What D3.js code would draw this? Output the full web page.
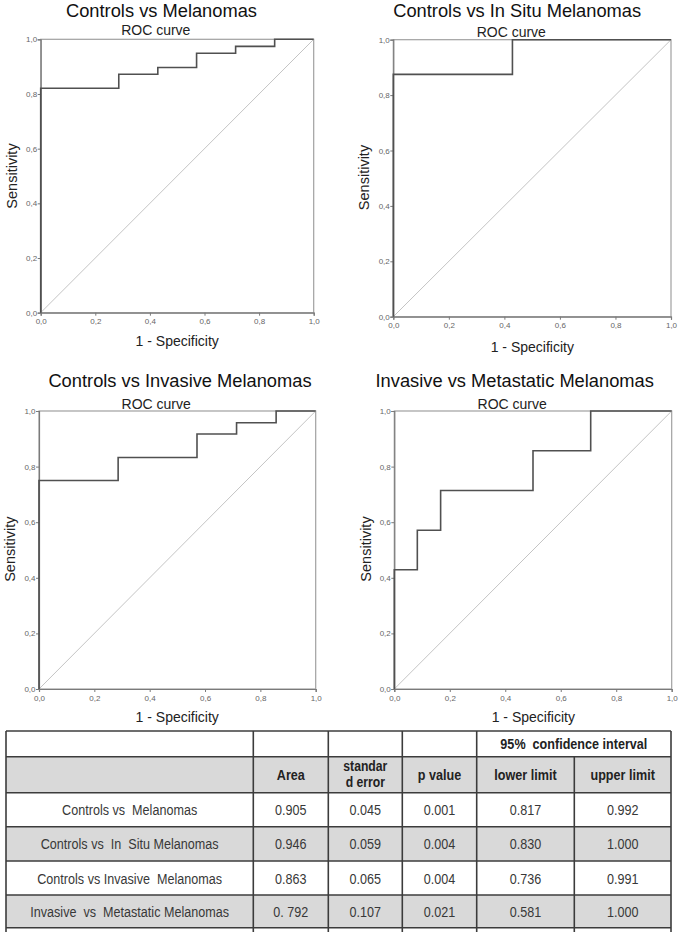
<!DOCTYPE html>
<html>
<head>
<meta charset="utf-8">
<script src="https://cdn.jsdelivr.net/npm/d3@7"></script>
<style>
  body { margin: 0; background: #fff; }
  svg { display: block; }
  text { font-family: "Liberation Sans", Arial, sans-serif; }
</style>
</head>
<body>
<div id="chart"></div>
<script>
// ---- data ----
const panelTitles = [
    'Controls vs Melanomas',
    'Controls vs In Situ Melanomas',
    'Controls vs Invasive Melanomas',
    'Invasive vs Metastatic Melanomas'
];

// ROC points (1 - specificity, sensitivity), drawn as step-after
const melFpr = [0, 0, 0.286, 0.429, 0.571, 0.714, 0.857, 1];
const melTpr = [0, 0.821, 0.872, 0.897, 0.949, 0.974, 1, 1];
const inSituFpr = [0, 0, 0.429, 1];
const inSituTpr = [0, 0.875, 1, 1];
const invasiveFpr = [0, 0, 0.286, 0.571, 0.714, 0.857, 1];
const invasiveTpr = [0, 0.75, 0.833, 0.917, 0.958, 1, 1];
const metaFpr = [0, 0, 0.083, 0.167, 0.5, 0.708, 1];
const metaTpr = [0, 0.429, 0.571, 0.714, 0.857, 1, 1];

const tickValues = [0, 0.2, 0.4, 0.6, 0.8, 1];
const tickLabels = ['0,0', '0,2', '0,4', '0,6', '0,8', '1,0'];

const tableRowLabels = [
    'Controls vs  Melanomas',
    'Controls vs  In  Situ Melanomas',
    'Controls vs Invasive  Melanomas',
    'Invasive  vs  Metastatic Melanomas'
];
const areaVals = ['0.905', '0.946', '0.863', '0. 792'];
const seVals = ['0.045', '0.059', '0.065', '0.107'];
const pVals = ['0.001', '0.004', '0.004', '0.021'];
const lowerVals = ['0.817', '0.830', '0.736', '0.581'];
const upperVals = ['0.992', '1.000', '0.991', '1.000'];
const headerLabels = ['', 'Area', ['standar', 'd error'], 'p value', 'lower limit', 'upper limit'];
const spanHeader = '95%  confidence interval';

// ---- layout ----
const svg = d3.select('#chart')
    .append('svg')
    .attr('width', 680)
    .attr('height', 932);

svg.append('rect').attr('width', 680).attr('height', 932).attr('fill', '#fff');

const panels = [
    { fpr: melFpr, tpr: melTpr, plot: { l: 40.7, r: 313.7, t: 39.3, b: 312.7 },
      title: [161.5, 17], roc: [155.8, 34.5], ylab: [16.5, 176], xlab: [177.2, 346] },
    { fpr: inSituFpr, tpr: inSituTpr, plot: { l: 393.3, r: 671, t: 39.7, b: 316.7 },
      title: [517.2, 17], roc: [511.3, 37.3], ylab: [369.3, 177.5], xlab: [532.3, 351.5] },
    { fpr: invasiveFpr, tpr: invasiveTpr, plot: { l: 39, r: 315.7, t: 411, b: 689 },
      title: [180, 386.7], roc: [156.2, 409.3], ylab: [15, 549.2], xlab: [177.2, 721.5] },
    { fpr: metaFpr, tpr: metaTpr, plot: { l: 394.3, r: 671.7, t: 411, b: 689 },
      title: [514.7, 386.7], roc: [512.2, 409.3], ylab: [370.7, 549], xlab: [533.3, 721.5] }
];

panels.forEach((p, i) => {
    const g = svg.append('g');
    const xScale = d3.scaleLinear().domain([0, 1]).range([p.plot.l, p.plot.r]);
    const yScale = d3.scaleLinear().domain([0, 1]).range([p.plot.b, p.plot.t]);

    // frame
    g.append('rect')
        .attr('x', p.plot.l).attr('y', p.plot.t)
        .attr('width', p.plot.r - p.plot.l).attr('height', p.plot.b - p.plot.t)
        .attr('fill', 'none').attr('stroke', '#a0a0a0').attr('stroke-width', 1.2);

    // reference diagonal
    g.append('line')
        .attr('x1', xScale(0)).attr('y1', yScale(0))
        .attr('x2', xScale(1)).attr('y2', yScale(1))
        .attr('stroke', '#c4c4c4').attr('stroke-width', 1);

    const fmt = (d) => tickLabels[tickValues.indexOf(d)];

    const yAxis = g.append('g')
        .attr('transform', `translate(${p.plot.l}, 0)`)
        .call(d3.axisLeft(yScale).tickValues(tickValues).tickSize(3).tickFormat(fmt));
    const xAxis = g.append('g')
        .attr('transform', `translate(0, ${p.plot.b})`)
        .call(d3.axisBottom(xScale).tickValues(tickValues).tickSize(3).tickFormat(fmt));

    [yAxis, xAxis].forEach(ax => {
        ax.select('.domain').attr('stroke', '#7a7a7a').attr('stroke-width', 1.2);
        ax.selectAll('.tick line').attr('stroke', '#7a7a7a');
        ax.selectAll('.tick text')
            .attr('fill', '#666')
            .style('font-size', '8px')
            .style('font-family', '"Liberation Sans", Arial, sans-serif');
    });
    yAxis.selectAll('.tick text').attr('x', -3.5);
    xAxis.selectAll('.tick text').attr('y', 6);

    // ROC step curve
    const pts = p.fpr.map((f, k) => [f, p.tpr[k]]);
    g.append('path')
        .datum(pts)
        .attr('d', d3.line()
            .x(d => xScale(d[0]))
            .y(d => yScale(d[1]))
            .curve(d3.curveStepAfter))
        .attr('fill', 'none')
        .attr('stroke', '#505050')
        .attr('stroke-width', 1.6);

    // texts
    g.append('text')
        .attr('x', p.title[0]).attr('y', p.title[1])
        .attr('text-anchor', 'middle')
        .attr('fill', '#111')
        .style('font-size', '18.3px')
        .text(panelTitles[i]);
    g.append('text')
        .attr('x', p.roc[0]).attr('y', p.roc[1])
        .attr('text-anchor', 'middle')
        .attr('fill', '#222')
        .style('font-size', '14px')
        .text('ROC curve');
    g.append('text')
        .attr('transform', `translate(${p.ylab[0]}, ${p.ylab[1]}) rotate(-90)`)
        .attr('text-anchor', 'middle')
        .attr('fill', '#222')
        .style('font-size', '14.5px')
        .text('Sensitivity');
    g.append('text')
        .attr('x', p.xlab[0]).attr('y', p.xlab[1])
        .attr('text-anchor', 'middle')
        .attr('fill', '#222')
        .style('font-size', '14px')
        .text('1 - Specificity');
});

// ---- table ----
const colEdges = [6, 253.3, 328.3, 402.3, 476.7, 574.3, 671];
const rowEdges = [731, 756.7, 792.7, 826.7, 861, 895, 927.7];
const tbl = svg.append('g');
const fills = ['#fff', '#d9d9d9', '#fff', '#d9d9d9', '#fff', '#d9d9d9'];
const squeeze = 0.84; // the table uses a narrow face

const narrowText = (x, y) => tbl.append('text')
    .attr('transform', `translate(${x}, ${y}) scale(${squeeze}, 1)`)
    .attr('text-anchor', 'middle')
    .style('white-space', 'pre');

tbl.selectAll('rect.rowbg')
    .data(fills)
    .enter()
    .append('rect')
    .attr('class', 'rowbg')
    .attr('x', colEdges[0])
    .attr('y', (d, k) => rowEdges[k])
    .attr('width', colEdges[6] - colEdges[0])
    .attr('height', (d, k) => rowEdges[k + 1] - rowEdges[k])
    .attr('fill', d => d);

// horizontal rules
tbl.selectAll('line.h')
    .data(rowEdges)
    .enter()
    .append('line')
    .attr('x1', colEdges[0]).attr('x2', colEdges[6])
    .attr('y1', d => d).attr('y2', d => d)
    .attr('stroke', '#3c3c3c').attr('stroke-width', 1.5);

// vertical rules
tbl.selectAll('line.v')
    .data(colEdges)
    .enter()
    .append('line')
    .attr('x1', d => d).attr('x2', d => d)
    .attr('y1', (d, k) => k === 5 ? rowEdges[1] : rowEdges[0])
    .attr('y2', 932)
    .attr('stroke', '#3c3c3c').attr('stroke-width', 1.6);

const colCenter = k => (colEdges[k] + colEdges[k + 1]) / 2;

narrowText((colEdges[4] + colEdges[6]) / 2, 749)
    .attr('fill', '#222')
    .style('font-size', '15px').style('font-weight', 'bold')
    .text(spanHeader);

headerLabels.forEach((h, k) => {
    if (!h) return;
    if (Array.isArray(h)) {
        narrowText(colCenter(k), 771.3)
            .attr('fill', '#222')
            .style('font-size', '14.5px').style('font-weight', 'bold')
            .text(h[0]);
        narrowText(colCenter(k), 787)
            .attr('fill', '#222')
            .style('font-size', '14.5px').style('font-weight', 'bold')
            .text(h[1]);
    } else {
        narrowText(colCenter(k), 780)
            .attr('fill', '#222')
            .style('font-size', '15px').style('font-weight', 'bold')
            .text(h);
    }
});

const tableCols = [tableRowLabels, areaVals, seVals, pVals, lowerVals, upperVals];
tableCols.forEach((vals, k) => {
    vals.forEach((v, r) => {
        narrowText(colCenter(k), (rowEdges[r + 2] + rowEdges[r + 3]) / 2 + 5.5)
            .attr('fill', '#383838')
            .style('font-size', '15px')
            .text(v);
    });
});
</script>
</body>
</html>
